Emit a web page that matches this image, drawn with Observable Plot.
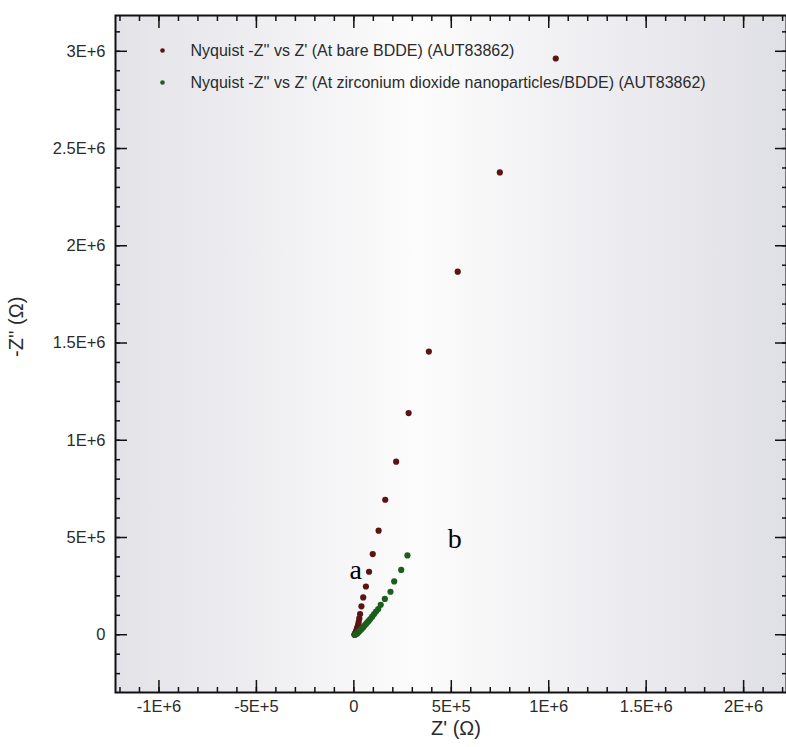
<!DOCTYPE html>
<html><head><meta charset="utf-8">
<script src="https://cdn.jsdelivr.net/npm/d3@7"></script>
<script src="https://cdn.jsdelivr.net/npm/@observablehq/plot@0.6"></script>
<style>body{margin:0;background:#fff}#chart{width:786px;height:747px}</style>
</head><body><div id="chart"></div>
<script>
// ---- data ----
const seriesNames = [
  "Nyquist -Z'' vs Z' (At bare BDDE) (AUT83862)",
  "Nyquist -Z'' vs Z' (At zirconium dioxide nanoparticles/BDDE) (AUT83862)"
];
const seriesColors = ["#5e1313", "#1d5e1d"];

const bareZre = [1036000, 749000, 533000, 385000, 281000, 217000, 161000, 127000, 97000, 78000, 62000, 48000, 39000, 32000, 28000, 25000, 22000, 19000, 16000, 14000, 12000, 10000, 8000, 6000, 4500, 3000];
const bareZim = [2963000, 2377000, 1867000, 1456000, 1140000, 890000, 694000, 535000, 415000, 324000, 248000, 192000, 146000, 106000, 84000, 66000, 52000, 40000, 31000, 23000, 17000, 12000, 8000, 5000, 2500, 500];

const zrZre = [275000, 243000, 207000, 188000, 159000, 138000, 125000, 114000, 104000, 94000, 84000, 76000, 68000, 62000, 55000, 49000, 43000, 39000, 34000, 29000, 25000, 21000, 18000, 15000, 12000, 9000, 7000, 5000];
const zrZim = [408000, 333000, 274000, 221000, 184000, 154000, 132000, 119000, 106000, 93000, 81000, 71000, 62000, 55000, 47000, 40000, 34000, 29000, 24000, 19000, 15000, 11000, 8000, 6000, 4000, 2000, 1000, 0];

const xTicks = [-1e6, -5e5, 0, 5e5, 1e6, 1.5e6, 2e6];
const xTickLabels = ["-1E+6", "-5E+5", "0", "5E+5", "1E+6", "1.5E+6", "2E+6"];
const yTicks = [0, 5e5, 1e6, 1.5e6, 2e6, 2.5e6, 3e6];
const yTickLabels = ["0", "5E+5", "1E+6", "1.5E+6", "2E+6", "2.5E+6", "3E+6"];
const xMinor = d3.range(-12e5, 22.5e5, 1e5);
const yMinor = d3.range(-2e5, 32e5, 1e5);
const xTitle = "Z' (\u03A9)";
const yTitle = "-Z'' (\u03A9)";
const annotations = [{label: "a", zre: 10000, zim: 333000}, {label: "b", zre: 518000, zim: 492000}];

// ---- build table ----
const bare = bareZre.map((v, i) => ({zre: v, zim: bareZim[i]}));
const zr = zrZre.map((v, i) => ({zre: v, zim: zrZim[i]}));

const fmtX = d => xTickLabels[xTicks.indexOf(d)];
const fmtY = d => yTickLabels[yTicks.indexOf(d)];

const bgDefs = () => {
  const defs = d3.create("svg:defs");
  const g = defs.append("linearGradient").attr("id", "bgGrad").attr("x1", "0").attr("x2", "1").attr("y1", "0").attr("y2", "0");
  g.append("stop").attr("offset", "0%").attr("stop-color", "#e2e2e8");
  g.append("stop").attr("offset", "45%").attr("stop-color", "#fcfcfc");
  g.append("stop").attr("offset", "100%").attr("stop-color", "#dfdfe6");
  return defs.node();
};

const font = "'Liberation Sans', Arial, sans-serif";
const txt = "#2b2b2b";

const chart = Plot.plot({
  width: 786,
  height: 747,
  marginLeft: 115,
  marginRight: 0,
  marginTop: 15,
  marginBottom: 55,
  style: {fontFamily: font, fontSize: "16px", color: txt, background: "#ffffff"},
  x: {domain: [-1.223e6, 2.22e6]},
  y: {domain: [-2.97e5, 3.184e6]},
  marks: [
    bgDefs,
    Plot.frame({fill: "url(#bgGrad)", stroke: "none"}),
    // minor ticks (inward)
    Plot.axisX(xMinor, {anchor: "bottom", tickSize: -5, fill: "none", stroke: "#111", strokeWidth: 1.5, label: null}),
    Plot.axisX(xMinor, {anchor: "top", tickSize: -5, fill: "none", stroke: "#111", strokeWidth: 1.5, label: null}),
    Plot.axisY(yMinor, {anchor: "left", tickSize: -5, fill: "none", stroke: "#111", strokeWidth: 1.5, label: null}),
    Plot.axisY(yMinor, {anchor: "right", tickSize: -5, fill: "none", stroke: "#111", strokeWidth: 1.5, label: null}),
    // major ticks (inward)
    Plot.axisX(xTicks, {anchor: "bottom", tickSize: -12, fill: "none", stroke: "#111", strokeWidth: 1.5, label: null}),
    Plot.axisX(xTicks, {anchor: "top", tickSize: -12, fill: "none", stroke: "#111", strokeWidth: 1.5, label: null}),
    Plot.axisY(yTicks, {anchor: "left", tickSize: -12, fill: "none", stroke: "#111", strokeWidth: 1.5, label: null}),
    Plot.axisY(yTicks, {anchor: "right", tickSize: -12, fill: "none", stroke: "#111", strokeWidth: 1.5, label: null}),
    // tick labels
    Plot.axisX(xTicks, {anchor: "bottom", tickSize: 0, tickPadding: 8, tickFormat: fmtX, label: null, fill: txt, fontSize: 16.5}),
    Plot.axisY(yTicks, {anchor: "left", tickSize: 0, tickPadding: 10, tickFormat: fmtY, label: null, fill: txt, fontSize: 16.5}),
    // data
    Plot.dot(bare, {x: "zre", y: "zim", r: 3.1, fill: seriesColors[0], stroke: "none"}),
    Plot.dot(zr, {x: "zre", y: "zim", r: 3.1, fill: seriesColors[1], stroke: "none"}),
    // annotations a, b
    Plot.text(annotations, {x: "zre", y: "zim", text: "label", fontFamily: "'Liberation Serif', 'Times New Roman', serif", fontSize: 28, fill: "#000"}),
    // legend
    Plot.dot([seriesNames[0]], {frameAnchor: "top-left", dx: 47, dy: 35, r: 2.3, fill: seriesColors[0], stroke: "none"}),
    Plot.dot([seriesNames[1]], {frameAnchor: "top-left", dx: 47, dy: 67, r: 2.3, fill: seriesColors[1], stroke: "none"}),
    Plot.text([seriesNames[0]], {frameAnchor: "top-left", dx: 75, dy: 35, text: d => d, textAnchor: "start", lineAnchor: "middle", fontSize: 16, fill: txt}),
    Plot.text([seriesNames[1]], {frameAnchor: "top-left", dx: 75, dy: 67, text: d => d, textAnchor: "start", lineAnchor: "middle", fontSize: 16, fill: txt}),
    // axis titles
    Plot.text([xTitle], {frameAnchor: "bottom", dx: 5, dy: 42, text: d => d, fontSize: 20, fill: txt}),
    Plot.text([yTitle], {frameAnchor: "left", dx: -99, dy: 3, rotate: -90, text: d => d, fontSize: 20, fill: txt}),
    // frame
    Plot.frame({stroke: "#111", strokeWidth: 2})
  ]
});
document.getElementById("chart").appendChild(chart);
</script>
</body></html>
